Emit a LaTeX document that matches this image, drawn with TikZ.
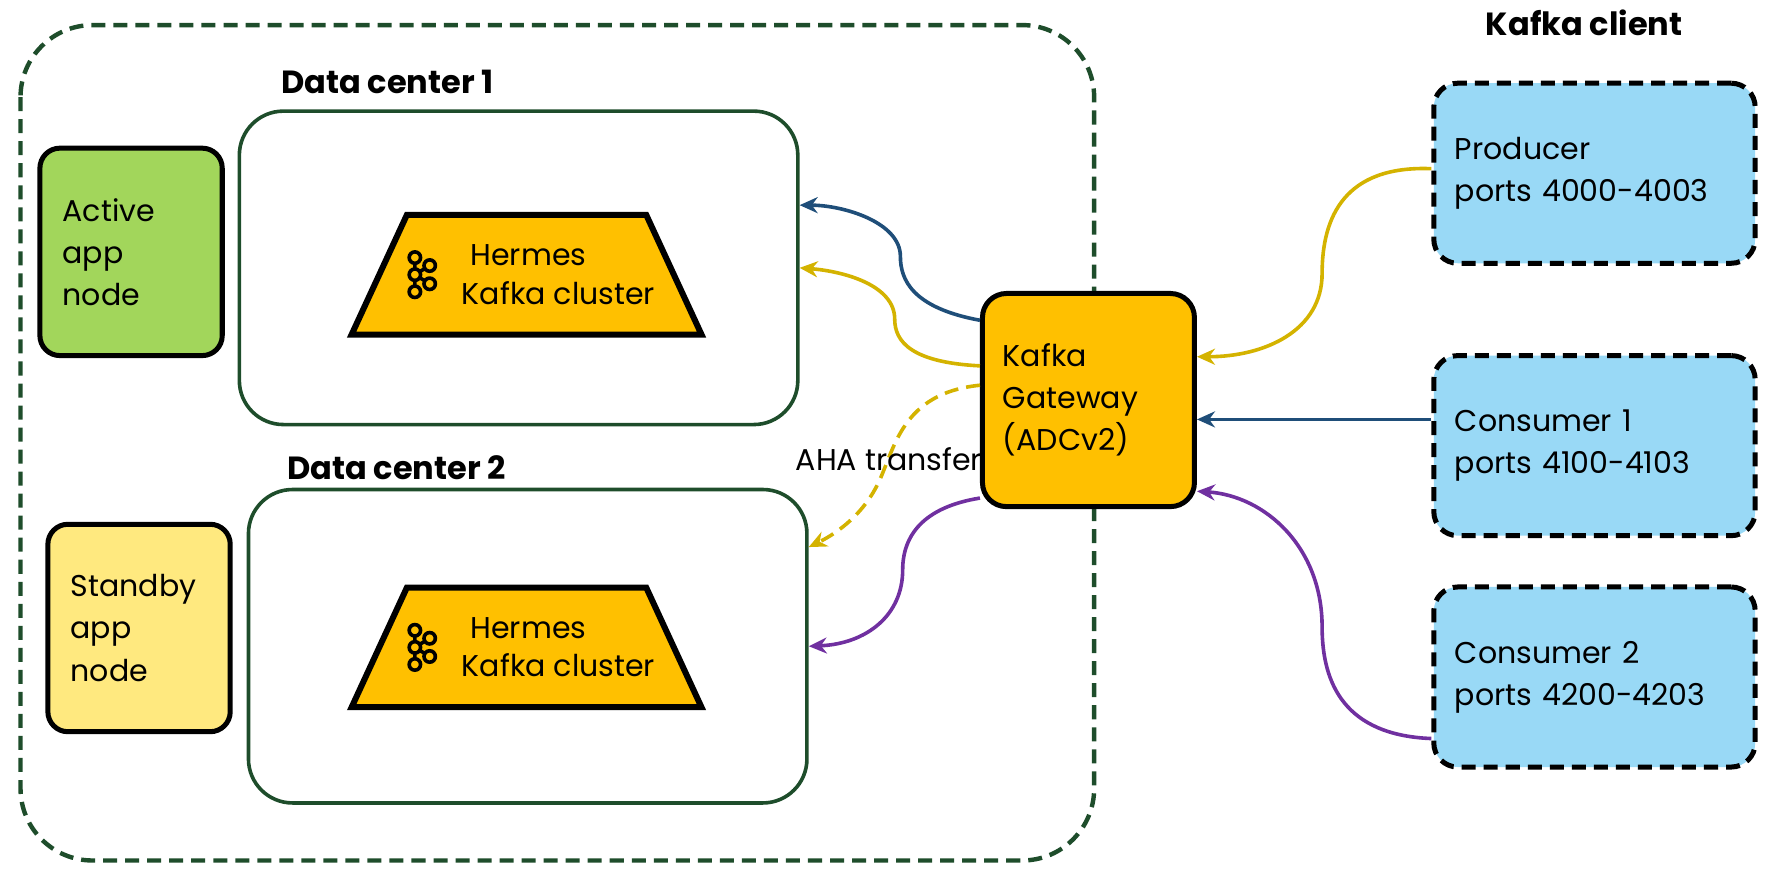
\documentclass[tikz,border=0pt]{standalone}
\usepackage{fontspec}
\setmainfont{Poppins}
\usetikzlibrary{positioning,calc,shapes.geometric,arrows.meta}
\definecolor{dkgreen}{HTML}{1E4D2B}
\definecolor{gold}{HTML}{FFC000}
\definecolor{appgreen}{HTML}{A2D65B}
\definecolor{appyellow}{HTML}{FFE97F}
\definecolor{clientblue}{HTML}{99D9F6}
\definecolor{linkblue}{HTML}{1F4E79}
\definecolor{linkyellow}{HTML}{D4B300}
\definecolor{linkpurple}{HTML}{7030A0}
\begin{document}
\begin{tikzpicture}[x=0.02cm, y=-0.02cm,
    every node/.style={font=\fontsize{15}{21}\selectfont},
    longdash/.style={dash pattern=on 7pt off 4pt},
    title/.style={font=\fontsize{16}{20}\selectfont\bfseries},
    dcbox/.style={draw=dkgreen, line width=1.8pt, rounded corners=22pt, minimum width=490*0.02cm, minimum height=275*0.02cm},
    appnode/.style={draw, line width=2.5pt, rounded corners=10pt, minimum width=160*0.02cm, minimum height=182*0.02cm, align=left, text width=120*0.02cm},
    client/.style={draw, longdash, line width=2.5pt, fill=clientblue, rounded corners=12pt, minimum width=282*0.02cm, minimum height=158*0.02cm, align=left, text width=245*0.02cm},
    cluster/.style={trapezium, trapezium angle=77, draw, line width=3pt, fill=gold, minimum width=307*0.02cm, minimum height=105*0.02cm, trapezium stretches=true},
    link/.style={line width=1.8pt, -{Stealth[length=9pt,width=8pt]}}]
  \useasboundingbox (0,0) rectangle (1560,770);
  % data centre frame
  \draw[dkgreen, longdash, line width=2.2pt, rounded corners=36pt] (18,22) rectangle (960,755);
  \node[title] (dc1t) at (340,72) {Data center 1};
  \node[title] (dc2t) at (348,410) {Data center 2};
  \node[title] (clientt) at (1390,20) {Kafka client};
  \node[dcbox] (dc1) at (455,235) {};
  \node[dcbox] (dc2) at (463,567) {};
  \node[appnode, fill=appgreen] (active) at (115,221) {Active\\app\\node};
  \node[appnode, fill=appyellow] (standby) at (122,551) {Standby\\app\\node};
  % clusters
  \foreach \n/\y in {kc1/241, kc2/568} {
    \node[cluster] (\n) at (462,\y) {};
    \node[align=center] at ([xshift=28*0.02cm]\n.center) {\hspace*{-30pt}Hermes\\[-2pt]Kafka cluster};
    \begin{scope}[shift={(364,\y)}, line width=1.8pt]
      \draw (0,0) -- (0,-15) (0,0) -- (0,15) (0,0) -- (13,-8) (0,0) -- (13,8);
      \foreach \p in {(0,0),(0,-15),(0,15),(13,-8),(13,8)}
        \draw[fill=gold] \p circle (5);
    \end{scope}
  }
  \node[draw, line width=2.5pt, fill=gold, rounded corners=12pt, minimum width=186*0.02cm, minimum height=187*0.02cm, align=left, text width=150*0.02cm] (gw) at (955,351) {Kafka\\Gateway\\(ADCv2)};
  \node[client] (prod) at (1399,152) {Producer\\ports 4000-4003};
  \node[client] (cons1) at (1399,391) {Consumer 1\\ports 4100-4103};
  \node[client] (cons2) at (1399,594) {Consumer 2\\ports 4200-4203};
  % links
  \draw[link, linkblue] ([yshift=70*0.02cm]gw.west) .. controls (800,270) and (790,245) .. (790,225) .. controls (790,195) and (740,180) .. ([yshift=55*0.02cm]dc1.east);
  \draw[link, linkyellow] ([yshift=30*0.02cm]gw.west) .. controls (800,318) and (785,300) .. (785,280) .. controls (785,250) and (740,238) .. (dc1.east);
  \draw[link, linkyellow, longdash] ([yshift=13*0.02cm]gw.west) .. controls (790,345) and (785,395) .. (770,425) .. controls (755,455) and (730,470) .. ([yshift=87*0.02cm]dc2.east);
  \node (aha) at (780,403) {AHA transfer};
  \draw[link, linkpurple] ([yshift=-86*0.02cm]gw.west) .. controls (810,445) and (792,470) .. (792,500) .. controls (792,540) and (760,565) .. (dc2.east);
  \draw[link, linkyellow] ([yshift=4*0.02cm]prod.west) .. controls (1180,145) and (1160,190) .. (1160,240) .. controls (1160,290) and (1110,313) .. ([yshift=38*0.02cm]gw.east);
  \draw[link, linkblue] ([yshift=23*0.02cm]cons1.west) -- ([yshift=-17*0.02cm]gw.east);
  \draw[link, linkpurple] ([yshift=-54*0.02cm]cons2.west) .. controls (1180,645) and (1160,600) .. (1160,550) .. controls (1160,480) and (1110,435) .. ([yshift=-80*0.02cm]gw.east);
\end{tikzpicture}
\end{document}
